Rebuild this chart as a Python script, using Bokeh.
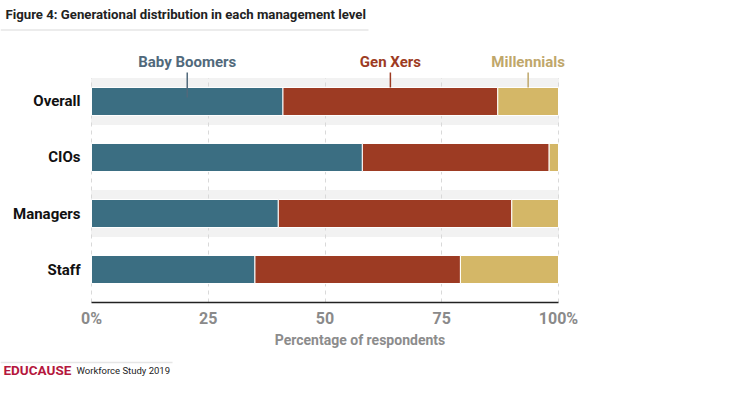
from bokeh.plotting import figure
from bokeh.layouts import column
from bokeh.models import Range1d, FixedTicker, ColumnDataSource
from bokeh.core.properties import value
from bokeh.embed import file_html
from bokeh.resources import INLINE

# ---- data ----
categories = ["Overall", "CIOs", "Managers", "Staff"]
generations = ["Baby Boomers", "Gen Xers", "Millennials"]
boomers = [41, 58, 40, 35]
genx = [46, 40, 50, 44]
millennials = [13, 2, 10, 21]
x_ticks = [0, 25, 50, 75, 100]
x_tick_labels = ["0%", "25", "50", "75", "100%"]
title_text = "Figure 4: Generational distribution in each management level"
x_label = "Percentage of respondents"

# ---- styles ----
colors = ["#3b6e82", "#9d3b23", "#d4b767"]
label_colors = ["#51697b", "#9d3b23", "#bfa76b"]
FONT = "Roboto"
W = 719

ypos = [len(categories) - 1 - i for i in range(len(categories))]
series = [boomers, genx, millennials]

# ---- header ----
hdr = figure(width=W, height=33, x_range=Range1d(0, W), y_range=Range1d(33, 0),
             output_backend="svg", toolbar_location=None, x_axis_type=None,
             y_axis_type=None, min_border=0, outline_line_color=None)
hdr.grid.visible = False
hdr.text(x=[5], y=[14], text=[title_text], text_font=value(FONT),
         text_font_style="bold", text_font_size="13.2px", text_color="#222222",
         text_baseline="middle")
hdr.line(x=[0, 368], y=[29.5, 29.5], line_color="#e6e6e6", line_width=1.5)

# ---- main ----
X0, X1 = -19.486, 134.475
Y0, YTOP, Y1 = -0.589, 3.429, 4.214
p = figure(width=W, height=319, x_range=Range1d(X0, X1), y_range=Range1d(Y0, Y1),
           output_backend="svg", toolbar_location=None, y_axis_type=None,
           min_border_left=0, min_border_right=0, min_border_top=0,
           min_border_bottom=50, outline_line_color=None)

# alternating bands
band_y = [ypos[i] for i in range(0, len(categories), 2)]
p.hbar(y=band_y, left=0, right=100, height=0.82, color="#f2f2f2", level="image")

# blank area above the bars (hides the grid there)
p.quad(left=[X0], right=[X1], bottom=[YTOP], top=[Y1], color="white")

data = dict(y=ypos)
for g, s in zip(generations, series):
    data[g] = s
src = ColumnDataSource(data)
p.hbar_stack(generations, y="y", height=0.5, color=colors, source=src,
             line_color="white", line_width=1)

# category labels
p.text(x=[-2.355] * len(categories), y=ypos, text=categories, text_align="right",
       text_baseline="middle", text_font=value(FONT), text_font_style="bold",
       text_font_size="15px", text_color="#111111")

# direct labels above the first row
start = 0
mids, ends = [], []
for j, s in enumerate(series):
    mids.append(start + s[0] / 2)
    start += s[0]
    ends.append(3.07 if j == 0 else 3.25)
p.segment(x0=mids, y0=[3.518] * 3, x1=mids, y1=ends, line_color=label_colors,
          line_width=1.5)
p.text(x=mids, y=[3.714] * 3, text=generations, text_align="center",
       text_baseline="middle", text_font=value(FONT), text_font_style="bold",
       text_font_size="15px", text_color=label_colors)

# x axis
p.xaxis.bounds = (0, 100)
p.xaxis.ticker = FixedTicker(ticks=x_ticks)
p.xaxis.major_label_overrides = {t: l for t, l in zip(x_ticks, x_tick_labels)}
p.xaxis.axis_label = x_label
p.xaxis.axis_label_text_font = FONT
p.xaxis.axis_label_text_font_style = "bold"
p.xaxis.axis_label_text_font_size = "14px"
p.xaxis.axis_label_text_color = "#8c8c8c"
p.xaxis.axis_label_standoff = 1
p.xaxis.major_label_text_font = FONT
p.xaxis.major_label_text_font_style = "bold"
p.xaxis.major_label_text_font_size = "16px"
p.xaxis.major_label_text_color = "#8a8a8a"
p.xaxis.major_label_standoff = 6
p.xaxis.major_tick_out = 0
p.xaxis.major_tick_in = 0
p.xaxis.axis_line_color = "#222222"
p.xaxis.axis_line_width = 1.3
p.xaxis.major_tick_line_color = None
p.xaxis.minor_tick_line_color = None

p.xgrid.ticker = FixedTicker(ticks=x_ticks)
p.xgrid.grid_line_color = "#d9d9d9"
p.xgrid.grid_line_dash = "4 4"

# ---- footer ----
ftr = figure(width=W, height=26, x_range=Range1d(0, W), y_range=Range1d(26, 0),
             output_backend="svg", toolbar_location=None, x_axis_type=None,
             y_axis_type=None, min_border=0, outline_line_color=None)
ftr.grid.visible = False
ftr.line(x=[0, 172], y=[10, 10], line_color="#e6e6e6", line_width=1.5)
ftr.text(x=[3], y=[17.5], text=["EDUCAUSE"], text_font=value(FONT),
         text_font_style="bold", text_font_size="13.5px", text_color="#b5173d",
         text_baseline="middle")
ftr.text(x=[76], y=[18], text=["Workforce Study 2019"], text_font=value(FONT),
         text_font_size="9.5px", text_color="#222222", text_baseline="middle")

layout = column(hdr, p, ftr, spacing=0)
open("out.html", "w").write(file_html(layout, INLINE))
